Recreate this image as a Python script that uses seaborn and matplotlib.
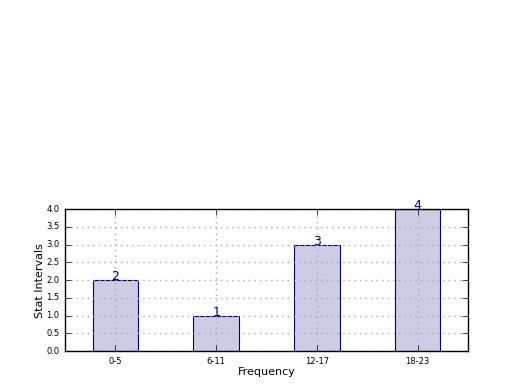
import matplotlib
matplotlib.use("Agg")
import matplotlib.pyplot as plt
import seaborn as sns
import pandas as pd

categories = ["0-5", "6-11", "12-17", "18-23"]
values = [2, 1, 3, 4]

plt.style.use("classic")
plt.rcParams["font.family"] = ["DejaVu Sans"]

df = pd.DataFrame({"interval": categories, "count": values})

fig = plt.figure(figsize=(5.2, 3.9), dpi=100, facecolor="white")
ax = fig.add_subplot(2, 1, 2)
sns.barplot(data=df, x="interval", y="count", ax=ax, color="navy",
            alpha=0.2, width=0.45, saturation=1, edgecolor="none")
sns.barplot(data=df, x="interval", y="count", ax=ax, fill=False,
            edgecolor="navy", linewidth=0.8, width=0.45)

for i, v in enumerate(values):
    ax.text(i, v, str(v), ha="center", va="baseline", color="navy", fontsize=9)

ax.set_xlim(-0.5, 3.5)
ax.set_ylim(0, 4)
ax.set_yticks([0, 0.5, 1, 1.5, 2, 2.5, 3, 3.5, 4])
ax.set_yticklabels(["0.0", "0.5", "1.0", "1.5", "2.0", "2.5", "3.0", "3.5", "4.0"])
ax.tick_params(axis="both", labelsize=6, direction="in", top=True, right=True)
ax.set_xlabel("Frequency", fontsize=8, labelpad=1)
ax.set_ylabel("Stat Intervals", fontsize=8, labelpad=1)
ax.grid(True, linestyle=":", color="#aaaaaa", linewidth=1)
ax.set_axisbelow(False)
for s in ax.spines.values():
    s.set_zorder(10)

fig.savefig("out.png", dpi=100, facecolor="white")
